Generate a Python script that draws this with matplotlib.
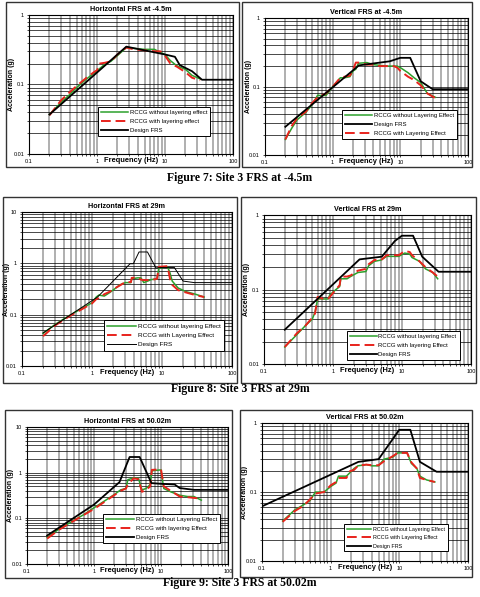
import matplotlib
matplotlib.use("Agg")
import matplotlib.pyplot as plt
from matplotlib.patches import Rectangle
from matplotlib.ticker import LogLocator, NullFormatter, FixedLocator, FixedFormatter

plt.rcParams['font.family'] = ['Liberation Sans', 'DejaVu Sans']

# ---- Figure 7: Site 3 FRS at -4.5m ----
h45_freq = [0.2, 0.3, 0.4, 0.5, 0.7, 0.9, 1.0, 1.1, 1.3, 1.6, 2.0, 2.7, 3.5, 5.0, 7.0, 8.5, 10, 12, 15, 20, 25, 33]
h45_green = [0.037, 0.056, 0.072, 0.09, 0.12, 0.145, 0.155, 0.17, 0.195, 0.215, 0.26, 0.34, 0.33, 0.32, 0.32, 0.29, 0.27, 0.22, 0.185, 0.165, 0.135, 0.12]
h45_red = [0.036, 0.06, 0.078, 0.095, 0.125, 0.15, 0.16, 0.2, 0.205, 0.215, 0.27, 0.34, 0.32, 0.31, 0.30, 0.30, 0.26, 0.2, 0.18, 0.15, 0.125, 0.115]
h45_design_f = [0.2, 2.7, 10, 14, 16.5, 25, 35, 100]
h45_design = [0.037, 0.35, 0.27, 0.25, 0.19, 0.155, 0.117, 0.117]

v45_freq = [0.2, 0.25, 0.3, 0.4, 0.5, 0.6, 0.7, 0.8, 1.0, 1.3, 1.5, 1.8, 2.0, 2.2, 2.4, 3.2, 4.0, 5.0, 6.5, 8.0, 9.0, 10, 13, 16, 20, 25, 33]
v45_green = [0.017, 0.025, 0.033, 0.042, 0.055, 0.075, 0.074, 0.075, 0.1, 0.135, 0.135, 0.14, 0.17, 0.18, 0.22, 0.225, 0.21, 0.205, 0.2, 0.2, 0.2, 0.19, 0.16, 0.135, 0.115, 0.08, 0.07]
v45_red = [0.017, 0.027, 0.035, 0.043, 0.058, 0.07, 0.075, 0.08, 0.1, 0.135, 0.14, 0.145, 0.175, 0.225, 0.225, 0.21, 0.21, 0.2, 0.2, 0.2, 0.19, 0.17, 0.14, 0.125, 0.105, 0.08, 0.068]
v45_design_f = [0.2, 2.45, 7, 10, 14, 20, 30, 100]
v45_design = [0.026, 0.205, 0.235, 0.264, 0.264, 0.12, 0.092, 0.092]

# ---- Figure 8: Site 3 FRS at 29m ----
h29_freq = [0.2, 0.3, 0.5, 0.7, 1.0, 1.15, 1.25, 1.5, 1.8, 2.0, 2.5, 3.0, 3.6, 3.7, 4.5, 5.0, 5.5, 7.0, 8.5, 9.0, 12, 13, 14, 17, 22, 30, 40]
h29_green = [0.043, 0.065, 0.1, 0.13, 0.17, 0.22, 0.24, 0.23, 0.27, 0.3, 0.38, 0.42, 0.42, 0.5, 0.52, 0.52, 0.42, 0.48, 0.5, 0.8, 0.85, 0.65, 0.45, 0.33, 0.28, 0.25, 0.22]
h29_red = [0.038, 0.062, 0.097, 0.125, 0.165, 0.2, 0.21, 0.25, 0.28, 0.31, 0.37, 0.43, 0.43, 0.52, 0.53, 0.48, 0.47, 0.47, 0.5, 0.85, 0.88, 0.5, 0.38, 0.3, 0.27, 0.24, 0.22]
h29_design_f = [0.2, 1.2, 3.5, 3.9, 4.7, 6.2, 8.2, 10, 15, 20, 29, 100]
h29_design = [0.044, 0.22, 0.98, 0.98, 1.66, 1.66, 0.81, 0.83, 0.83, 0.45, 0.42, 0.42]

v29_freq = [0.2, 0.3, 0.4, 0.5, 0.55, 0.6, 0.7, 0.85, 0.9, 1.1, 1.25, 1.3, 1.6, 1.8, 2.3, 3.0, 3.3, 4.0, 5.0, 6.0, 7.5, 9.0, 11, 13, 14, 18, 22, 28, 33]
v29_green = [0.017, 0.025, 0.033, 0.04, 0.05, 0.075, 0.075, 0.075, 0.085, 0.1, 0.11, 0.14, 0.14, 0.15, 0.17, 0.175, 0.21, 0.24, 0.25, 0.28, 0.28, 0.28, 0.31, 0.3, 0.27, 0.24, 0.19, 0.17, 0.14]
v29_red = [0.017, 0.026, 0.033, 0.042, 0.048, 0.08, 0.076, 0.075, 0.08, 0.1, 0.115, 0.15, 0.15, 0.155, 0.18, 0.19, 0.22, 0.25, 0.25, 0.29, 0.29, 0.29, 0.33, 0.32, 0.29, 0.24, 0.2, 0.17, 0.15]
v29_design_f = [0.2, 2.43, 5.1, 7.9, 10, 14.5, 19.7, 34, 100]
v29_design = [0.029, 0.255, 0.277, 0.45, 0.53, 0.53, 0.277, 0.174, 0.174]

# ---- Figure 9: Site 3 FRS at 50.02m ----
h50_freq = [0.2, 0.3, 0.5, 0.7, 1.0, 1.5, 2.0, 2.5, 3.0, 3.2, 3.9, 4.6, 5.2, 6.0, 6.9, 7.3, 10, 11, 14, 19, 25, 31, 40]
h50_green = [0.038, 0.058, 0.09, 0.12, 0.17, 0.25, 0.33, 0.42, 0.45, 0.7, 0.77, 0.75, 0.42, 0.45, 0.55, 1.1, 1.15, 0.45, 0.38, 0.32, 0.3, 0.3, 0.25]
h50_red = [0.036, 0.056, 0.088, 0.118, 0.16, 0.24, 0.32, 0.4, 0.45, 0.55, 0.75, 0.72, 0.38, 0.42, 0.5, 1.15, 1.18, 0.5, 0.4, 0.3, 0.29, 0.28, 0.27]
h50_design_f = [0.2, 1.0, 2.4, 3.4, 4.8, 7.2, 10, 16, 19, 31, 100]
h50_design = [0.042, 0.2, 0.62, 2.2, 2.2, 0.59, 0.57, 0.55, 0.46, 0.42, 0.42]

v50_freq = [0.2, 0.3, 0.4, 0.5, 0.6, 0.8, 1.0, 1.2, 1.3, 1.7, 1.9, 2.2, 2.5, 3.3, 4.0, 5.0, 6.0, 8.0, 9.5, 13, 15, 18, 20, 25, 33]
v50_green = [0.038, 0.055, 0.065, 0.075, 0.1, 0.1, 0.12, 0.135, 0.17, 0.17, 0.19, 0.22, 0.24, 0.25, 0.24, 0.24, 0.3, 0.32, 0.37, 0.37, 0.26, 0.22, 0.17, 0.15, 0.14]
v50_red = [0.037, 0.053, 0.063, 0.078, 0.095, 0.1, 0.125, 0.14, 0.16, 0.16, 0.2, 0.21, 0.24, 0.25, 0.245, 0.245, 0.28, 0.33, 0.37, 0.37, 0.27, 0.22, 0.16, 0.15, 0.14]
v50_design_f = [0.1, 2.54, 5, 10, 14.5, 20, 35, 100]
v50_design = [0.062, 0.274, 0.3, 0.8, 0.8, 0.274, 0.197, 0.197]

panels = [
    # rect: axes in figure fractions; leg: legend anchor in axes fractions;
    # box: frame in pixels (x0, y0, x1, y1); ylab: x centre of the y label in pixels
    dict(title='Horizontal FRS at -4.5m', f=h45_freq, g=h45_green, r=h45_red, df=h45_design_f, d=h45_design,
         ymax=1, labels=['RCCG without layering effect', 'RCCG with layering effect', 'Design FRS'],
         order=['g', 'r', 'd'], rect=[0.0604, 0.742, 0.425, 0.233], leg=(0.34, 0.13),
         box=(6, 2, 239, 167), dlw=1.3, fs=4.3, ylab=12),
    dict(title='Vertical FRS at -4.5m', f=v45_freq, g=v45_green, r=v45_red, df=v45_design_f, d=v45_design,
         ymax=1, labels=['RCCG without Layering Effect', 'RCCG with Layering Effect', 'Design FRS'],
         order=['g', 'd', 'r'], rect=[0.552, 0.740, 0.423, 0.2295], leg=(0.38, 0.12),
         box=(242, 2, 472, 167), dlw=1.3, fs=4.3, ylab=248),
    dict(title='Horizontal FRS at 29m', f=h29_freq, g=h29_green, r=h29_red, df=h29_design_f, d=h29_design,
         ymax=10, labels=['RCCG without layering Effect', 'RCCG with Layering Effect', 'Design FRS'],
         order=['g', 'r', 'd'], rect=[0.0458, 0.387, 0.4375, 0.258], leg=(0.39, 0.10),
         box=(3, 197, 237, 383), dlw=0.7, fs=4.6, ylab=7),
    dict(title='Vertical FRS at 29m', f=v29_freq, g=v29_green, r=v29_red, df=v29_design_f, d=v29_design,
         ymax=1, labels=['RCCG without layering Effect', 'RCCG with layering Effect', 'Design FRS'],
         order=['g', 'r', 'd'], rect=[0.55, 0.390, 0.431, 0.2496], leg=(0.40, 0.03),
         box=(241, 197, 476, 383), dlw=1.3, fs=4.3, ylab=247),
    dict(title='Horizontal FRS at 50.02m', f=h50_freq, g=h50_green, r=h50_red, df=h50_design_f, d=h50_design,
         ymax=10, labels=['RCCG without Layering Effect', 'RCCG with layering Effect', 'Design FRS'],
         order=['g', 'r', 'd'], rect=[0.05625, 0.0553, 0.41875, 0.2295], leg=(0.38, 0.15),
         box=(5, 410, 232, 578), dlw=1.3, fs=4.4, ylab=11),
    dict(title='Vertical FRS at 50.02m', f=v50_freq, g=v50_green, r=v50_red, df=v50_design_f, d=v50_design,
         ymax=1, labels=['RCCG without Layering Effect', 'RCCG with Layering Effect', 'Design FRS'],
         order=['g', 'r', 'd'], rect=[0.5458, 0.0603, 0.429, 0.231], leg=(0.40, 0.07),
         box=(240, 410, 472, 577), dlw=1.3, fs=3.9, ylab=245),
]

captions = [('Figure 7: Site 3 FRS at -4.5m', 178),
            ('Figure 8: Site 3 FRS at 29m', 389),
            ('Figure 9: Site 3 FRS at 50.02m', 583)]

W, H = 480, 597
fig = plt.figure(figsize=(W / 100, H / 100), dpi=100)

for p in panels:
    x0, y0, x1, y1 = p['box']
    fig.patches.append(Rectangle((x0 / W, 1 - y1 / H), (x1 - x0) / W, (y1 - y0) / H,
                                 transform=fig.transFigure, fill=False, edgecolor='#333333', lw=1.0))

    ax = fig.add_axes(p['rect'])
    ax.set_xscale('log')
    ax.set_yscale('log')
    ax.set_xlim(0.1, 100)
    ax.set_ylim(0.01, p['ymax'])

    subs = [2, 3, 4, 5, 6, 7, 8, 9]
    ax.xaxis.set_minor_locator(LogLocator(base=10, subs=subs))
    ax.yaxis.set_minor_locator(LogLocator(base=10, subs=subs))
    ax.xaxis.set_minor_formatter(NullFormatter())
    ax.yaxis.set_minor_formatter(NullFormatter())
    ax.xaxis.set_major_locator(FixedLocator([0.1, 1, 10, 100]))
    ax.xaxis.set_major_formatter(FixedFormatter(['0.1', '1', '10', '100']))
    ytl = ['0.01', '0.1', '1', '10'] if p['ymax'] == 10 else ['0.01', '0.1', '1']
    ax.yaxis.set_major_locator(FixedLocator([float(t) for t in ytl]))
    ax.yaxis.set_major_formatter(FixedFormatter(ytl))

    ax.grid(which='both', axis='x', color='#9a9a9a', lw=1.1)
    ax.grid(which='both', axis='y', color='#b0b0b0', lw=1.2)
    ax.grid(which='both', axis='y', color='black', lw=0.5)
    ax.tick_params(which='both', labelsize=4, length=1.5, width=0.5, pad=2)
    for s in ax.spines.values():
        s.set_linewidth(0.8)
        s.set_color('black')

    lines = {}
    lines['g'], = ax.plot(p['f'], p['g'], color='#2ca02c', lw=1.1, label=p['labels'][0], zorder=3)
    lines['r'], = ax.plot(p['f'], p['r'], color='#e8231c', lw=1.4, dashes=(5, 2.5), label=p['labels'][1], zorder=4)
    lines['d'], = ax.plot(p['df'], p['d'], color='black', lw=p['dlw'], label=p['labels'][2], zorder=5)

    handles = [lines[k] for k in p['order']]
    leg = ax.legend(handles=handles, labels=[h.get_label() for h in handles],
                    loc='lower left', bbox_to_anchor=p['leg'],
                    fontsize=p['fs'], handlelength=4.5, handletextpad=0.3, labelspacing=0.6,
                    borderaxespad=0, fancybox=False, framealpha=1, edgecolor='black',
                    borderpad=0.5)
    leg.get_frame().set_linewidth(0.7)
    leg.set_zorder(10)

    ax.set_title(p['title'], fontsize=5.2, fontweight='bold', pad=3)
    ax.set_xlabel('Frequency (Hz)', fontsize=5.4, fontweight='bold', labelpad=-5)
    ax.set_ylabel('Acceleration (g)', fontsize=5, fontweight='bold', va='center')
    left_px = p['rect'][0] * W
    width_px = p['rect'][2] * W
    ax.yaxis.set_label_coords((p['ylab'] - left_px) / width_px, 0.5)

for text, y in captions:
    fig.text(0.5, 1 - y / H, text, ha='center', va='center', fontsize=8.5,
             fontweight='bold', family=['Liberation Serif', 'DejaVu Serif'])

fig.savefig('out.png', dpi=100)
